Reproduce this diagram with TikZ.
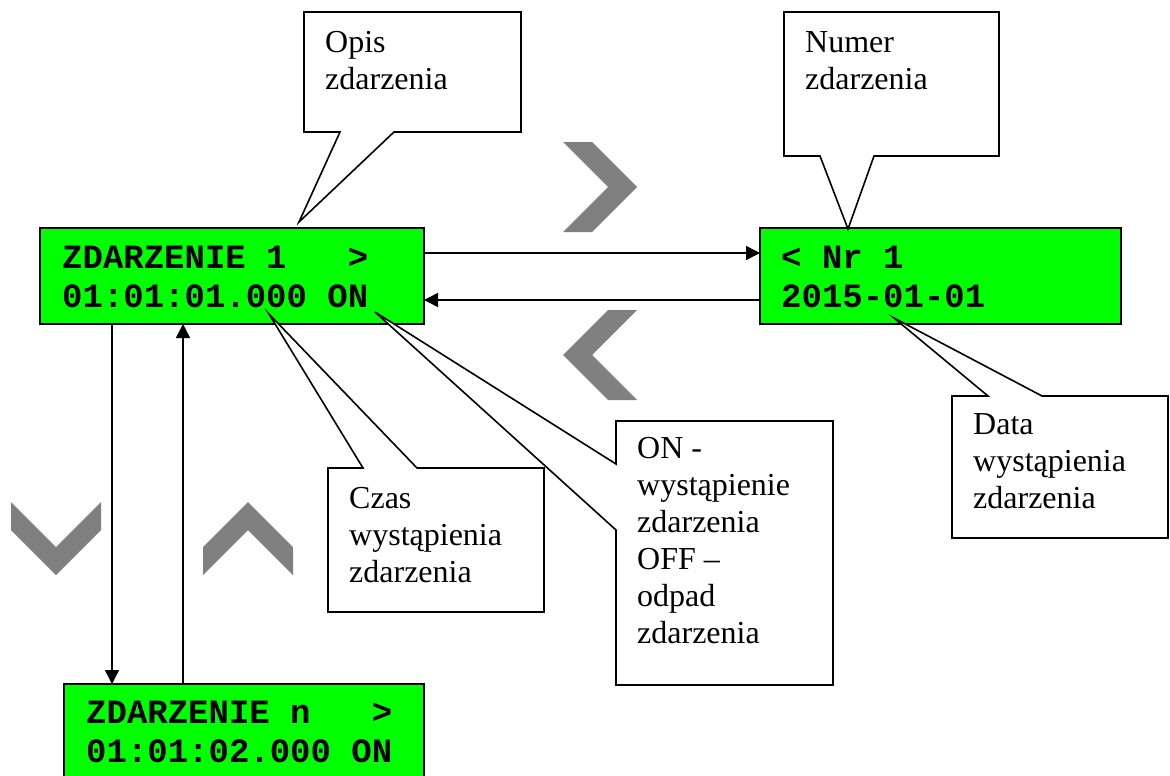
\documentclass[tikz,border=0pt]{standalone}
\usepackage{fontspec}
\setmainfont{Liberation Serif}
\setmonofont{Liberation Mono}
\usetikzlibrary{arrows.meta}
\definecolor{lcdgreen}{HTML}{00FF00}
\definecolor{chevgray}{HTML}{808080}
\begin{document}
\begin{tikzpicture}[x=1pt,y=-1pt,
  lcd/.style={draw=black, line width=1.8pt, fill=lcdgreen, inner sep=0pt, outer sep=0pt, anchor=north west, minimum height=96pt},
  lcdtext/.style={anchor=base west, inner sep=0pt, align=left, font=\fontsize{34}{39}\selectfont\ttfamily\bfseries},
  calltext/.style={anchor=base west, inner sep=0pt, align=left, font=\fontsize{32}{37}\selectfont},
  callout/.style={draw=black, line width=1.6pt, fill=white, line join=miter},
  conn/.style={draw=black, line width=1.5pt, -{Triangle[length=14pt,width=14pt]}},
  chevron/.style={fill=chevgray}]
\useasboundingbox (0,0) rectangle (1170,776);
\fill[white] (0,0) rectangle (1170,776);

% grey chevrons
\fill[chevron] (563,142)--(592,142)--(637,187)--(592,232)--(563,232)--(608,187)--cycle;
\fill[chevron] (637,310)--(608,310)--(563,355)--(608,400)--(637,400)--(592,355)--cycle;
\fill[chevron] (11,502)--(56,547)--(101,502)--(101,530)--(56,575)--(11,530)--cycle;
\fill[chevron] (203,547)--(248,502)--(293,547)--(293,575)--(248,530)--(203,575)--cycle;

% LCD boxes
\node[lcd, minimum width=384pt] (b1) at (40,228) {};
\node[lcd, minimum width=361pt] (b2) at (760,228) {};
\node[lcd, minimum width=360pt] (b3) at (64,684) {};

\node[lcdtext] (t1) at (62,307) {ZDARZENIE 1~~~>\\01:01:01.000 ON};
\node[lcdtext] (t2) at (781,307) {< Nr 1\\2015-01-01};
\node[lcdtext] (t3) at (86,762) {ZDARZENIE n~~~>\\01:01:02.000 ON};

% connectors
\draw[conn] ([yshift=23pt]b1.east) -- ([yshift=23pt]b2.west);
\draw[conn] ([yshift=-24pt]b2.west) -- ([yshift=-24pt]b1.east);
\draw[conn] ([xshift=-120pt]b1.south) -- ([xshift=-120pt]b1.south |- b3.north);
\draw[conn] ([xshift=-49pt]b1.south |- b3.north) -- ([xshift=-49pt]b1.south);

% callouts
\draw[callout] (304,12)--(521,12)--(521,132)--(394,132)--(299,222)--(340,132)--(304,132)--cycle;
\node[calltext] (c1) at (325,89) {Opis\\zdarzenia};

\draw[callout] (784,12)--(999,12)--(999,156)--(874,156)--(848,229)--(820,156)--(784,156)--cycle;
\node[calltext] (c2) at (805,89) {Numer\\zdarzenia};

\draw[callout] (952,396)--(988,396)--(894,318)--(1042,396)--(1168,396)--(1168,538)--(952,538)--cycle;
\node[calltext] (c3) at (973,508) {Data\\wystąpienia\\zdarzenia};

\draw[callout] (328,468)--(363,468)--(269,314)--(417,468)--(544,468)--(544,612)--(328,612)--cycle;
\node[calltext] (c4) at (349,582) {Czas\\wystąpienia\\zdarzenia};

\draw[callout] (616,421)--(833,421)--(833,685)--(616,685)--(616,530)--(375,312)--(616,464)--cycle;
\node[calltext] (c5) at (637,643) {ON -\\wystąpienie\\zdarzenia\\OFF –\\odpad\\zdarzenia};
\end{tikzpicture}
\end{document}
